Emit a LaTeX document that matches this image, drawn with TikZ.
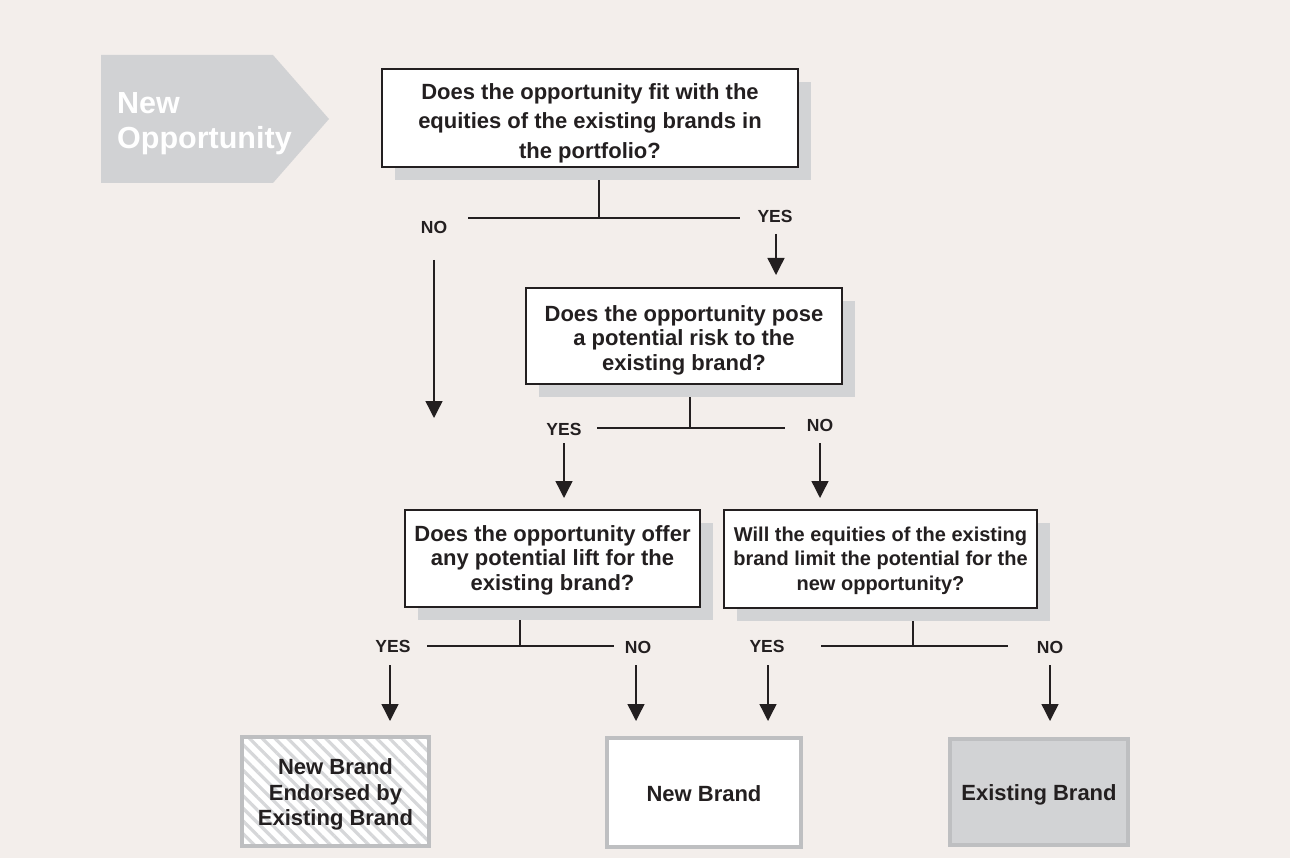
\documentclass[tikz,border=0pt]{standalone}
\usepackage{fontspec}
\setmainfont{Liberation Sans}
\usetikzlibrary{arrows.meta,shadows,patterns.meta}

\definecolor{paper}{RGB}{243,238,235}
\definecolor{shade}{RGB}{210,211,213}
\definecolor{rim}{RGB}{190,191,193}
\definecolor{ink}{RGB}{35,31,32}
\definecolor{stripe}{RGB}{214,215,217}
\definecolor{tagfill}{RGB}{209,210,212}

\pgfdeclarelayer{back}
\pgfsetlayers{back,main}

% invisible strut that sets how far the first line reaches above its baseline
\newcommand\padtop[1]{\rule{0pt}{#1}}

\tikzset{
  question/.style={draw=ink, line width=1.3pt, fill=white, align=center,
    text=ink, inner sep=0pt,
    font=\bfseries\fontsize{22}{24.5}\selectfont,
    general shadow={fill=shade, shadow xshift=13pt, shadow yshift=-13pt}},
  outcome/.style={draw=rim, line width=4pt, align=center, text=ink, inner sep=0pt,
    font=\bfseries\fontsize{22}{25.5}\selectfont},
  answer/.style={text=ink, inner sep=0pt, font=\bfseries\fontsize{17.5}{19}\selectfont},
  flow/.style={draw=ink, line width=1.2pt},
  arrowline/.style={draw=ink, line width=1.4pt, -{Triangle[width=17pt,length=17pt]}},
}

\begin{document}
\begin{tikzpicture}[x=1pt,y=-1pt]
\useasboundingbox (0,0) rectangle (1290,858);

% start tag
\fill[tagfill] (101,55) -- (273,55) -- (329,119) -- (273,183) -- (101,183) -- cycle;
\node[anchor=north west, align=left, inner sep=0pt, text=white,
      font=\bfseries\fontsize{30.5}{35}\selectfont] (start) at (117,92) {New\\Opportunity};

% question boxes
\node[question, minimum width=416pt, minimum height=98pt,
      font=\bfseries\fontsize{22}{29.5}\selectfont] (q1) at (590,118)
  {\padtop{26pt}Does the opportunity fit with the\\equities of the existing brands in\\the portfolio?};
\node[question, minimum width=316pt, minimum height=96pt] (q2) at (684,336)
  {\padtop{24pt}Does the opportunity pose\\a potential risk to the\\existing brand?};
\node[question, minimum width=295pt, minimum height=97pt] (q3) at (552.5,558.5)
  {\padtop{19pt}Does the opportunity offer\\any potential lift for the\\existing brand?};
\node[question, minimum width=313pt, minimum height=98pt,
      font=\bfseries\fontsize{20}{24.5}\selectfont] (q4) at (880.5,559)
  {\padtop{18pt}Will the equities of the existing\\brand limit the potential for the\\new opportunity?};

% outcome boxes
\node[outcome, minimum width=187pt, minimum height=109pt,
      preaction={fill=white},
      pattern={Lines[angle=-45,distance=9pt,line width=3.2pt]}, pattern color=stripe]
  (endorsed) at (335.5,791.5) {\padtop{22pt}New Brand\\Endorsed by\\Existing Brand};
\node[outcome, fill=white, minimum width=194pt, minimum height=109pt]
  (newbrand) at (704,792.5) {\padtop{18pt}New Brand};
\node[outcome, fill=shade, minimum width=178pt, minimum height=106pt]
  (existing) at (1039,792) {\padtop{22pt}Existing Brand};

% branch points
\coordinate (j1) at (599,218);
\coordinate (l1) at (468,218);  \coordinate (r1) at (740,218);
\coordinate (j2) at (690,428);
\coordinate (l2) at (597,428);  \coordinate (r2) at (785,428);
\coordinate (j3) at (520,646);
\coordinate (l3) at (427,646);  \coordinate (r3) at (614,646);
\coordinate (j4) at (913,646);
\coordinate (l4) at (821,646);  \coordinate (r4) at (1008,646);

% answer labels
\node[answer] (no1)  at (434,227)  {NO};
\node[answer] (yes1) at (775,216)  {YES};
\node[answer] (yes2) at (564,429)  {YES};
\node[answer] (no2)  at (820,425)  {NO};
\node[answer] (yes3) at (393,646)  {YES};
\node[answer] (no3)  at (638,647)  {NO};
\node[answer] (yes4) at (767,646)  {YES};
\node[answer] (no4)  at (1050,647) {NO};

% arrow ends
\coordinate (s1) at (776,234);   \coordinate (t1) at (776,275);
\coordinate (sn) at (434,260);   \coordinate (tn) at (434,418);
\coordinate (s2y) at (564,443);  \coordinate (t2y) at (564,498);
\coordinate (s2n) at (820,443);  \coordinate (t2n) at (820,498);
\coordinate (s3y) at (390,665);  \coordinate (t3y) at (390,721);
\coordinate (s3n) at (636,665);  \coordinate (t3n) at (636,721);
\coordinate (s4y) at (768,665);  \coordinate (t4y) at (768,721);
\coordinate (s4n) at (1050,665); \coordinate (t4n) at (1050,721);

\begin{pgfonlayer}{back}
  \fill[paper] (0,0) rectangle (1290,858);
  % stems and branch bars
  \draw[flow] (j1 |- q1.south) -- (j1);
  \draw[flow] (l1) -- (r1);
  \draw[flow] (j2 |- q2.south) -- (j2);
  \draw[flow] (l2) -- (r2);
  \draw[flow] (j3 |- q3.south) -- (j3);
  \draw[flow] (l3) -- (r3);
  \draw[flow] (j4 |- q4.south) -- (j4);
  \draw[flow] (l4) -- (r4);
\end{pgfonlayer}

% arrows
\draw[arrowline] (s1) -- (t1);
\draw[arrowline] (sn) -- (tn);
\draw[arrowline] (s2y) -- (t2y);
\draw[arrowline] (s2n) -- (t2n);
\draw[arrowline] (s3y) -- (t3y);
\draw[arrowline] (s3n) -- (t3n);
\draw[arrowline] (s4y) -- (t4y);
\draw[arrowline] (s4n) -- (t4n);
\end{tikzpicture}
\end{document}
